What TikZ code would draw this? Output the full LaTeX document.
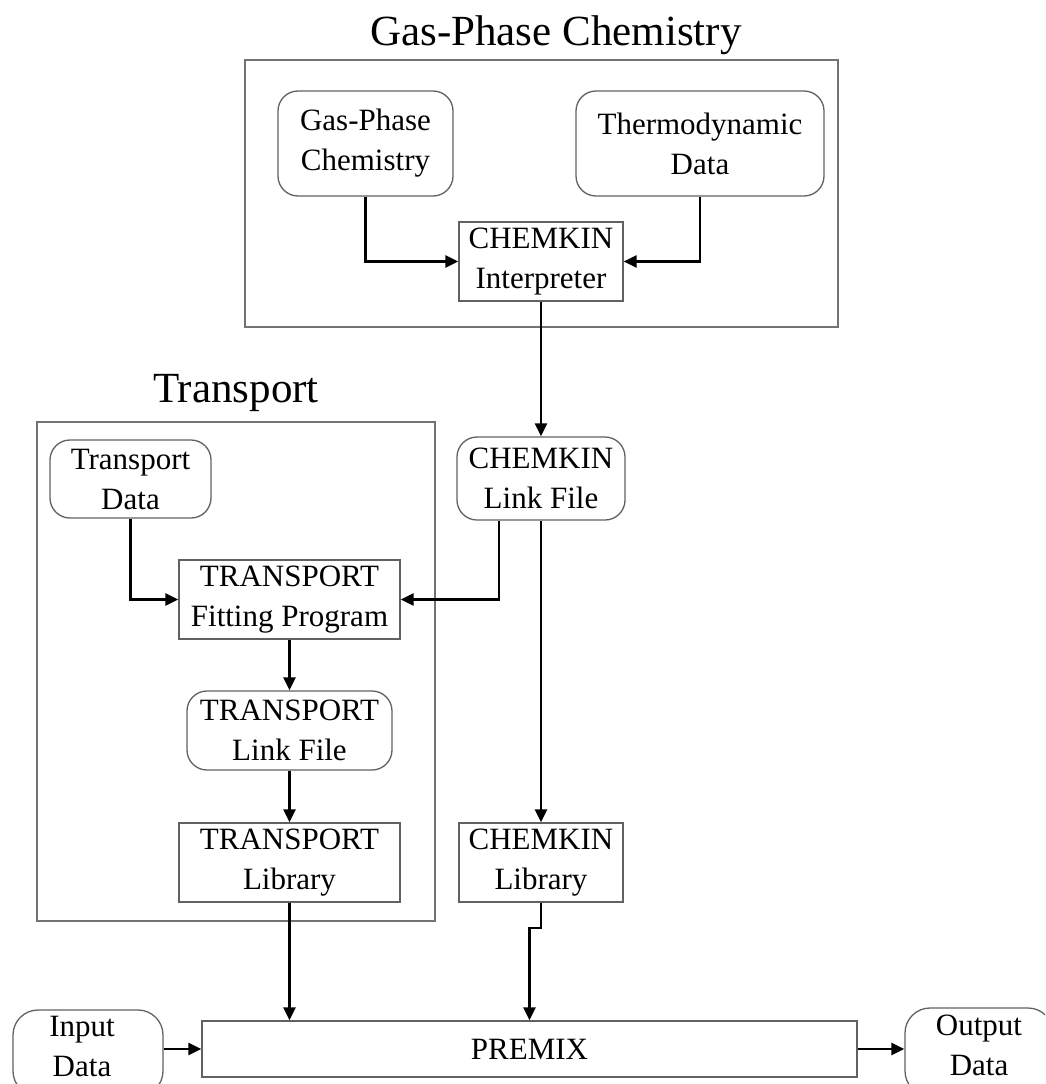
\documentclass[tikz,border=0pt]{standalone}
\usepackage{fontspec}
\setmainfont{Liberation Serif}
\usetikzlibrary{arrows.meta}
\begin{document}
\begin{tikzpicture}[x=1pt,y=-1pt,
  sq/.style={draw=black!62, line width=1.3pt, inner sep=0pt, align=center, font=\fontsize{31}{40}\selectfont},
  rnd/.style={sq, rounded corners=20pt},
  frame/.style={draw=black!55, line width=1.5pt, inner sep=0pt},
  ttl/.style={inner sep=0pt, anchor=base, font=\fontsize{43}{50}\selectfont},
  conn/.style={line width=2.3pt, -{Triangle[length=13pt,width=12pt]}}]
\useasboundingbox (0,0) rectangle (1045,1084);
\clip (0,0) rectangle (1045,1084);
% Gas-phase chemistry group
\node[frame, minimum width=593pt, minimum height=267pt] (gpframe) at (541.5,193.5) {};
\node[ttl] (gptitle) at (556,45) {Gas-Phase Chemistry};
\node[rnd, minimum width=175pt, minimum height=105pt] (gpc) at (365.5,143.5) {Gas-Phase\\Chemistry};
\node[rnd, minimum width=248pt, minimum height=105pt] (thermo) at (700,143.5) {Thermodynamic\\Data};
\node[sq, minimum width=164pt, minimum height=79pt] (interp) at (541,261.5) {CHEMKIN\\Interpreter};
% Transport group
\node[frame, minimum width=398pt, minimum height=499pt] (tframe) at (236,671.5) {};
\node[ttl] (ttitle) at (236,402) {Transport};
\node[rnd, minimum width=161pt, minimum height=78pt] (tdata) at (130.5,479) {Transport\\Data};
\node[sq, minimum width=221pt, minimum height=79pt] (fit) at (289.5,599.5) {TRANSPORT\\Fitting Program};
\node[rnd, minimum width=205pt, minimum height=79pt] (tlink) at (289.5,730.5) {TRANSPORT\\Link File};
\node[sq, minimum width=221pt, minimum height=79pt] (tlib) at (289.5,862.5) {TRANSPORT\\Library};
% CHEMKIN column
\node[rnd, minimum width=168pt, minimum height=83pt] (clink) at (541,478.5) {CHEMKIN\\Link File};
\node[sq, minimum width=164pt, minimum height=79pt] (clib) at (541,862.5) {CHEMKIN\\Library};
% bottom row
\node[sq, minimum width=655pt, minimum height=56pt] (premix) at (529.5,1049) {PREMIX};
\node[rnd, rounded corners=25pt, minimum width=150pt, minimum height=86pt] (input) at (88,1053) {};
\node[inner sep=0pt, align=center, font=\fontsize{31}{40}\selectfont] (inputtxt) at (82,1046) {Input\\Data};
\node[rnd, rounded corners=25pt, minimum width=148pt, minimum height=88pt] (output) at (979,1052) {};
\node[inner sep=0pt, align=center, font=\fontsize{31}{40}\selectfont] (outputtxt) at (979,1045) {Output\\Data};
% connectors
\draw[conn] (gpc.south) |- (interp.west);
\draw[conn] (thermo.south) |- (interp.east);
\draw[conn] (interp.south) -- (clink.north);
\draw[conn] (tdata.south) |- (fit.west);
\draw[conn] ([xshift=-42pt]clink.south) |- (fit.east);
\draw[conn] (clink.south) -- (clib.north);
\draw[conn] (fit.south) -- (tlink.north);
\draw[conn] (tlink.south) -- (tlib.north);
\draw[conn] (tlib.south) -- (tlib.south |- premix.north);
\draw[conn] (clib.south) -- ++(0,25) -| (premix.north);
\draw[conn] (input.east |- premix.west) -- (premix.west);
\draw[conn] (premix.east) -- (premix.east -| output.west);
\end{tikzpicture}
\end{document}
